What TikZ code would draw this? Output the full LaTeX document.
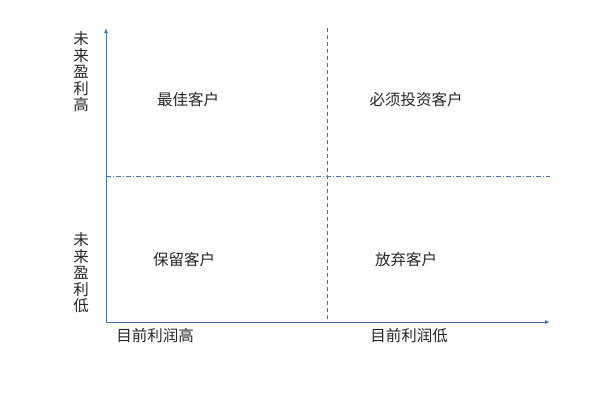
\documentclass[tikz,border=0pt]{standalone}
\usepackage{fontspec}
\newfontfamily\cjk{Noto Sans CJK SC}
\usetikzlibrary{arrows.meta}
\definecolor{axisblue}{HTML}{4A72B0}
\definecolor{txt}{HTML}{262626}
\tikzset{
  axis/.style={draw=axisblue, line width=0.9pt, -{Latex[length=5pt,width=4pt]}},
  divv/.style={draw=axisblue, line width=0.7pt, dash pattern=on 4pt off 3pt},
  divh/.style={draw=axisblue, line width=0.7pt, dash pattern=on 5pt off 2pt on 1pt off 2pt},
  lbl/.style={font=\cjk\fontsize{15.5}{15.5}\selectfont, text=txt, inner sep=0pt},
  vlbl/.style={font=\cjk\fontsize{15.5}{16.5}\selectfont, text=txt, inner sep=0pt, align=center},
}
\begin{document}
\begin{tikzpicture}[x=1pt,y=-1pt]
\useasboundingbox (0,0) rectangle (606,400);
\coordinate (o) at (106,322);
\coordinate (ytop) at (106,28);
\coordinate (xend) at (550,322);
\coordinate (vtop) at (327,28);
\coordinate (vbot) at (327,322);
\coordinate (hl) at (106,176);
\coordinate (hr) at (550,176);
\draw[divv] (vtop) -- (vbot);
\draw[divh] (hl) -- (hr);
\draw[axis] (o) -- (ytop);
\draw[axis] (o) -- (xend);
\node[lbl] (q1) at (188,100) {最佳客户};
\node[lbl] (q2) at (416,100) {必须投资客户};
\node[lbl] (q3) at (184,260) {保留客户};
\node[lbl] (q4) at (406,260) {放弃客户};
\node[lbl] (xl) at (155,336) {目前利润高};
\node[lbl] (xr) at (409,336) {目前利润低};
\node[vlbl] (yh) at (81,72) {未\\来\\盈\\利\\高};
\node[vlbl] (yl) at (81,273) {未\\来\\盈\\利\\低};
\end{tikzpicture}
\end{document}
